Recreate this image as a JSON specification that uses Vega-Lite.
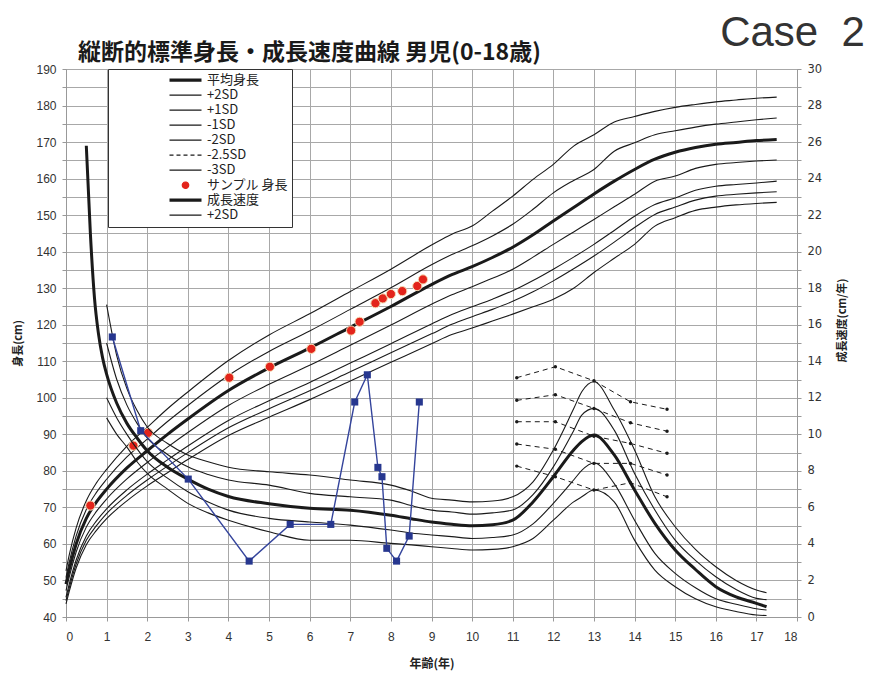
{
  "$schema": "https://vega.github.io/schema/vega-lite/v6.json",
  "width": 731,
  "height": 548,
  "autosize": {"type": "none"},
  "padding": {"left": 66, "top": 69, "right": 72, "bottom": 58},
  "background": "white",
  "config": {
    "view": {"stroke": "#999", "strokeWidth": 1},
    "font": "Noto Sans CJK JP",
    "axis": {"gridColor": "#a8a8a8", "gridWidth": 1, "domainColor": "#999", "tickColor": "#999", "tickSize": 4, "labelColor": "#333", "titleColor": "#222"}
  },
  "title": {
    "text": "縦断的標準身長・成長速度曲線 男児(0-18歳)",
    "anchor": "start", "frame": "group", "dx": 12, "dy": 54, "offset": 0,
    "font": "Noto Sans CJK JP", "fontSize": 23, "fontWeight": "bold", "color": "#1a1a1a"
  },
  "datasets": {
    "height": [
      {"age": 0, "m": 49, "p2": 52.6, "p1": 50.8, "n1": 47.2, "n2": 45.4, "n25": 44.5, "n3": 43.6},
      {"age": 0.08, "m": 53, "p2": 57, "p1": 55, "n1": 51, "n2": 49, "n25": 48, "n3": 47},
      {"age": 0.25, "m": 60, "p2": 64.4, "p1": 62.2, "n1": 57.8, "n2": 55.6, "n25": 54.5, "n3": 53.4},
      {"age": 0.5, "m": 67, "p2": 71.8, "p1": 69.4, "n1": 64.6, "n2": 62.2, "n25": 61, "n3": 59.8},
      {"age": 0.75, "m": 71.5, "p2": 76.7, "p1": 74.1, "n1": 68.9, "n2": 66.3, "n25": 65, "n3": 63.7},
      {"age": 1, "m": 75, "p2": 80.4, "p1": 77.7, "n1": 72.3, "n2": 69.6, "n25": 68.3, "n3": 66.9},
      {"age": 1.5, "m": 80.8, "p2": 86.8, "p1": 83.8, "n1": 77.8, "n2": 74.8, "n25": 73.3, "n3": 71.8},
      {"age": 2, "m": 85.5, "p2": 91.9, "p1": 88.7, "n1": 82.3, "n2": 79.1, "n25": 77.5, "n3": 75.9},
      {"age": 2.5, "m": 90, "p2": 97, "p1": 93.5, "n1": 86.5, "n2": 83, "n25": 81.3, "n3": 79.5},
      {"age": 3, "m": 94.2, "p2": 101.6, "p1": 97.9, "n1": 90.5, "n2": 86.8, "n25": 85, "n3": 83.1},
      {"age": 4, "m": 102, "p2": 110.2, "p1": 106.1, "n1": 97.9, "n2": 93.8, "n25": 91.8, "n3": 89.7},
      {"age": 5, "m": 108.2, "p2": 117.2, "p1": 112.7, "n1": 103.7, "n2": 99.2, "n25": 97, "n3": 94.7},
      {"age": 6, "m": 113.6, "p2": 123.0, "p1": 118.3, "n1": 108.9, "n2": 104.2, "n25": 101.9, "n3": 99.5},
      {"age": 7, "m": 119.3, "p2": 129.1, "p1": 124.2, "n1": 114.4, "n2": 109.5, "n25": 107.1, "n3": 104.6},
      {"age": 8, "m": 125.0, "p2": 135.2, "p1": 130.1, "n1": 119.9, "n2": 114.8, "n25": 112.3, "n3": 109.7},
      {"age": 9, "m": 131.0, "p2": 141.8, "p1": 136.4, "n1": 125.6, "n2": 120.2, "n25": 117.5, "n3": 114.8},
      {"age": 9.5, "m": 133.7, "p2": 144.8, "p1": 139.2, "n1": 128.2, "n2": 122.8, "n25": 120.1, "n3": 117.3},
      {"age": 10, "m": 135.9, "p2": 147.0, "p1": 141.6, "n1": 130.4, "n2": 124.9, "n25": 122.2, "n3": 119.1},
      {"age": 10.5, "m": 138.4, "p2": 151.1, "p1": 144.3, "n1": 132.7, "n2": 127.0, "n25": 124.2, "n3": 121.0},
      {"age": 11, "m": 141.2, "p2": 155.2, "p1": 147.5, "n1": 135.2, "n2": 129.3, "n25": 126.4, "n3": 122.9},
      {"age": 11.5, "m": 144.6, "p2": 159.8, "p1": 151.6, "n1": 138.5, "n2": 132.1, "n25": 129.0, "n3": 124.9},
      {"age": 12, "m": 148.4, "p2": 163.9, "p1": 156.1, "n1": 142.0, "n2": 135.2, "n25": 132.0, "n3": 127.0},
      {"age": 12.5, "m": 152.1, "p2": 168.9, "p1": 159.5, "n1": 145.4, "n2": 138.5, "n25": 135.3, "n3": 130.0},
      {"age": 13, "m": 155.8, "p2": 172.0, "p1": 162.5, "n1": 148.8, "n2": 142.0, "n25": 138.8, "n3": 134.3},
      {"age": 13.5, "m": 159.3, "p2": 175.5, "p1": 167.5, "n1": 152.3, "n2": 145.8, "n25": 142.6, "n3": 138.2},
      {"age": 14, "m": 162.5, "p2": 177.0, "p1": 169.8, "n1": 155.7, "n2": 149.7, "n25": 146.6, "n3": 142.0},
      {"age": 14.5, "m": 165.3, "p2": 178.4, "p1": 172.0, "n1": 159.3, "n2": 152.9, "n25": 150.2, "n3": 147.0},
      {"age": 15, "m": 167.2, "p2": 179.5, "p1": 173.1, "n1": 160.7, "n2": 154.7, "n25": 152.2, "n3": 149.3},
      {"age": 15.5, "m": 168.5, "p2": 180.3, "p1": 174.1, "n1": 162.8, "n2": 156.8, "n25": 154.1, "n3": 151.3},
      {"age": 16, "m": 169.4, "p2": 181.0, "p1": 174.9, "n1": 163.9, "n2": 157.9, "n25": 155.2, "n3": 152.2},
      {"age": 16.5, "m": 169.9, "p2": 181.5, "p1": 175.5, "n1": 164.4, "n2": 158.4, "n25": 155.7, "n3": 152.8},
      {"age": 17, "m": 170.4, "p2": 182.0, "p1": 176.1, "n1": 164.8, "n2": 158.8, "n25": 156.1, "n3": 153.2},
      {"age": 17.5, "m": 170.7, "p2": 182.3, "p1": 176.6, "n1": 165.1, "n2": 159.3, "n25": 156.4, "n3": 153.5}
    ],
    "vel": [
      {"age": 0.5, "vm": 25.8},
      {"age": 0.6, "vm": 21.0},
      {"age": 0.7, "vm": 17.5},
      {"age": 0.8, "vm": 15.5},
      {"age": 0.9, "vm": 14.2},
      {"age": 1.0, "vm": 13.3, "vp2": 17.1, "vp1": 15.0, "vn1": 12.0, "vn2": 10.9},
      {"age": 1.25, "vm": 11.7, "vp2": 14.3, "vp1": 13.0, "vn1": 10.9, "vn2": 10.0},
      {"age": 1.5, "vm": 10.6, "vp2": 12.5, "vp1": 11.6, "vn1": 10.0, "vn2": 9.3},
      {"age": 1.75, "vm": 9.8, "vp2": 11.3, "vp1": 10.6, "vn1": 9.2, "vn2": 8.5},
      {"age": 2, "vm": 9.1, "vp2": 10.4, "vp1": 9.8, "vn1": 8.5, "vn2": 7.86},
      {"age": 2.5, "vm": 8.2, "vp2": 9.5, "vp1": 8.9, "vn1": 7.6, "vn2": 7.0},
      {"age": 3, "vm": 7.55, "vp2": 8.87, "vp1": 8.22, "vn1": 6.86, "vn2": 6.22},
      {"age": 3.5, "vm": 7.0, "vp2": 8.5, "vp1": 7.8, "vn1": 6.3, "vn2": 5.7},
      {"age": 4, "vm": 6.6, "vp2": 8.2, "vp1": 7.5, "vn1": 5.85, "vn2": 5.3},
      {"age": 5, "vm": 6.2, "vp2": 7.95, "vp1": 7.22, "vn1": 5.4, "vn2": 4.67},
      {"age": 6, "vm": 5.95, "vp2": 7.77, "vp1": 6.77, "vn1": 5.2, "vn2": 4.2},
      {"age": 7, "vm": 5.85, "vp2": 7.5, "vp1": 6.58, "vn1": 5.03, "vn2": 4.2},
      {"age": 8, "vm": 5.57, "vp2": 7.22, "vp1": 6.4, "vn1": 4.76, "vn2": 4.03},
      {"age": 8.5, "vm": 5.38, "vp2": 6.9, "vp1": 6.1, "vn1": 4.6, "vn2": 3.95},
      {"age": 9, "vm": 5.2, "vp2": 6.5, "vp1": 5.85, "vn1": 4.49, "vn2": 3.85},
      {"age": 9.5, "vm": 5.08, "vp2": 6.4, "vp1": 5.75, "vn1": 4.4, "vn2": 3.75},
      {"age": 10, "vm": 5.0, "vp2": 6.3, "vp1": 5.63, "vn1": 4.3, "vn2": 3.67},
      {"age": 10.5, "vm": 5.05, "vp2": 6.35, "vp1": 5.7, "vn1": 4.35, "vn2": 3.7},
      {"age": 11, "vm": 5.3, "vp2": 6.58, "vp1": 5.86, "vn1": 4.49, "vn2": 3.85},
      {"age": 11.5, "vm": 6.3, "vp2": 7.4, "vp1": 6.7, "vn1": 5.1, "vn2": 4.3},
      {"age": 12, "vm": 7.68, "vp2": 9.14, "vp1": 8.22, "vn1": 6.22, "vn2": 5.3},
      {"age": 12.5, "vm": 9.14, "vp2": 11.4, "vp1": 10.2, "vn1": 7.5, "vn2": 6.3},
      {"age": 12.7, "vm": 9.6, "vp2": 12.33, "vp1": 11.05, "vn1": 8.03, "vn2": 6.58},
      {"age": 13, "vm": 9.96, "vp2": 12.88, "vp1": 11.42, "vn1": 8.43, "vn2": 6.95},
      {"age": 13.5, "vm": 8.87, "vp2": 11.33, "vp1": 10.23, "vn1": 7.3, "vn2": 6.3},
      {"age": 14, "vm": 6.95, "vp2": 9.14, "vp1": 7.86, "vn1": 5.3, "vn2": 4.21},
      {"age": 14.5, "vm": 5.13, "vp2": 6.58, "vp1": 5.86, "vn1": 3.48, "vn2": 2.57},
      {"age": 15, "vm": 3.67, "vp2": 4.94, "vp1": 4.21, "vn1": 2.39, "vn2": 1.66},
      {"age": 15.5, "vm": 2.6, "vp2": 3.7, "vp1": 3.1, "vn1": 1.6, "vn2": 1.0},
      {"age": 16, "vm": 1.66, "vp2": 2.75, "vp1": 2.2, "vn1": 1.0, "vn2": 0.56},
      {"age": 16.5, "vm": 1.1, "vp2": 2.0, "vp1": 1.5, "vn1": 0.7, "vn2": 0.3},
      {"age": 17, "vm": 0.75, "vp2": 1.48, "vp1": 1.02, "vn1": 0.45, "vn2": 0.11},
      {"age": 17.25, "vm": 0.56, "vp2": 1.33, "vp1": 0.95, "vn1": 0.38, "vn2": 0.08}
    ],
    "dashed": [
      {"age": 11.1, "d1": 13.1, "d2": 11.86, "d3": 10.69, "d4": 9.47, "d5": 8.26},
      {"age": 12.05, "d1": 13.7, "d2": 12.17, "d3": 10.69, "d4": 9.18, "d5": 7.68},
      {"age": 13.0, "d1": 12.93, "d2": 11.42, "d3": 9.9, "d4": 8.41, "d5": 6.95},
      {"age": 13.9, "d1": 11.78, "d2": 10.63, "d3": 9.5, "d4": 8.41, "d5": 7.35},
      {"age": 14.8, "d1": 11.37, "d2": 10.17, "d3": 8.96, "d4": 7.77, "d5": 6.58}
    ],
    "sampleH": [
      {"age": 0.6, "cm": 70.5},
      {"age": 1.66, "cm": 86.9},
      {"age": 2.02, "cm": 90.4},
      {"age": 4.02, "cm": 105.5},
      {"age": 5.02, "cm": 108.5},
      {"age": 6.04, "cm": 113.4},
      {"age": 7.02, "cm": 118.4},
      {"age": 7.23, "cm": 120.8},
      {"age": 7.62, "cm": 125.9},
      {"age": 7.8, "cm": 127.2},
      {"age": 8.0, "cm": 128.4},
      {"age": 8.28, "cm": 129.2},
      {"age": 8.65, "cm": 130.6},
      {"age": 8.79, "cm": 132.4}
    ],
    "sampleV": [
      {"age": 1.14, "v": 15.33},
      {"age": 1.84, "v": 10.2},
      {"age": 3.01, "v": 7.55},
      {"age": 4.51, "v": 3.06},
      {"age": 5.52, "v": 5.07},
      {"age": 6.52, "v": 5.07},
      {"age": 7.11, "v": 11.77},
      {"age": 7.42, "v": 13.26},
      {"age": 7.68, "v": 8.19},
      {"age": 7.78, "v": 7.68},
      {"age": 7.9, "v": 3.76},
      {"age": 8.14, "v": 3.06},
      {"age": 8.45, "v": 4.43},
      {"age": 8.7, "v": 11.77}
    ]
  },
  "encoding": {
    "x": {
      "field": "age", "type": "quantitative",
      "scale": {"domain": [0, 18], "nice": false, "zero": false},
      "axis": {
        "values": [0,1,2,3,4,5,6,7,8,9,10,11,12,13,14,15,16,17,18],
        "title": "年齢(年)", "grid": true,
        "labelFont": "Liberation Sans", "labelFontSize": 12, "labelPadding": 10,
        "titleFont": "Noto Sans CJK JP", "titleFontSize": 12, "titleFontWeight": "bold",
        "titleY": 46, "titleBaseline": "middle"
      }
    }
  },
  "layer": [
    {
      "encoding": {
        "y": {
          "field": "cm", "type": "quantitative",
          "scale": {"domain": [40, 190], "nice": false, "zero": false},
          "axis": {
            "orient": "left", "title": "身長(cm)",
            "values": [40,45,50,55,60,65,70,75,80,85,90,95,100,105,110,115,120,125,130,135,140,145,150,155,160,165,170,175,180,185,190],
            "labelExpr": "datum.value % 10 === 0 ? datum.label : ''",
            "grid": true, "labelFont": "Liberation Sans", "labelFontSize": 12, "labelPadding": 6,
            "titleFont": "Noto Sans CJK JP", "titleFontSize": 11, "titleFontWeight": "bold",
            "titleAngle": 270, "titleX": -48, "titleY": 274, "titleAlign": "center", "titleBaseline": "middle"
          }
        }
      },
      "layer": [
        {
          "data": {"name": "height"},
          "transform": [{"fold": ["m", "p2", "p1", "n1", "n2", "n25", "n3"], "as": ["s", "cm"]}],
          "mark": {"type": "line", "interpolate": "monotone"},
          "encoding": {
            "detail": {"field": "s"},
            "color": {
              "field": "s", "type": "nominal",
              "scale": {
                "domain": ["m", "p2", "p1", "n1", "n2", "n25", "n3", "smp", "vm", "vp2"],
                "range": ["#1a1a1a", "#1a1a1a", "#1a1a1a", "#1a1a1a", "#1a1a1a", "#1a1a1a", "#1a1a1a", "#e3241b", "#1a1a1a", "#1a1a1a"]
              },
              "legend": {
                "orient": "none", "legendX": 42, "legendY": 0, "title": null,
                "padding": 4, "fillColor": "white", "strokeColor": "#333",
                "symbolSize": 1024, "symbolType": "stroke", "symbolStrokeWidth": 1.2,
                "symbolOffset": 67, "labelOffset": 15, "clipHeight": 14.4, "rowPadding": 0,
                "labelFont": "Noto Sans CJK JP", "labelFontSize": 13, "labelColor": "#222", "labelLimit": 300,
                "labelExpr": "datum.value === 'm' ? '平均身長' : datum.value === 'p2' ? '+2SD' : datum.value === 'p1' ? '+1SD' : datum.value === 'n1' ? '-1SD' : datum.value === 'n2' ? '-2SD' : datum.value === 'n25' ? '-2.5SD' : datum.value === 'n3' ? '-3SD' : datum.value === 'smp' ? 'サンプル 身長\u00a0\u00a0\u00a0\u00a0\u00a0\u00a0' : datum.value === 'vm' ? '成長速度' : '+2SD'",
                "encode": {
                  "symbols": {
                    "update": {
                      "shape": {"signal": "datum.value === 'smp' ? 'M-0.2,0A0.2,0.2 0 1,0 0.2,0A0.2,0.2 0 1,0 -0.2,0Z' : 'stroke'"},
                      "fill": {"signal": "datum.value === 'smp' ? '#e3241b' : 'transparent'"},
                      "stroke": {"signal": "datum.value === 'smp' ? '#e3241b' : '#1a1a1a'"},
                      "strokeWidth": {"signal": "(datum.value === 'm' || datum.value === 'vm') ? 3.2 : 1.2"},
                      "strokeDash": {"signal": "datum.value === 'n25' ? [4, 3] : [1, 0]"}
                    }
                  }
                }
              }
            },
            "strokeWidth": {"condition": {"test": "datum.s === 'm'", "value": 3}, "value": 1.1}
          }
        },
        {
          "data": {"name": "sampleH"},
          "mark": {"type": "point", "filled": true, "shape": "circle", "size": 85, "color": "#e3241b", "stroke": "#f6dcb4", "strokeWidth": 1, "opacity": 1}
        }
      ]
    },
    {
      "encoding": {
        "x": {
          "field": "age", "type": "quantitative",
          "scale": {"domain": [0, 18], "nice": false, "zero": false},
          "axis": {
            "orient": "top", "labels": false, "ticks": false, "domain": false, "grid": false,
            "title": "Case\u00a0\u00a02", "titleFont": "Liberation Sans", "titleFontSize": 42, "titleFontWeight": "normal",
            "titleColor": "#333", "titleX": 726, "titleY": -24, "titleAlign": "center", "titleBaseline": "alphabetic"
          }
        },
        "y": {
          "field": "v", "type": "quantitative",
          "scale": {"domain": [0, 30], "nice": false, "zero": false},
          "axis": {
            "orient": "right", "title": "成長速度(cm/年)",
            "values": [0,1,2,3,4,5,6,7,8,9,10,11,12,13,14,15,16,17,18,19,20,21,22,23,24,25,26,27,28,29,30],
            "labelExpr": "datum.value % 2 === 0 ? datum.label : ''",
            "grid": false, "labelFont": "DejaVu Sans", "labelFontSize": 11.5, "labelPadding": 6,
            "titleFont": "Noto Sans CJK JP", "titleFontSize": 11, "titleFontWeight": "bold",
            "titleAngle": 270, "titleX": 45, "titleY": 251, "titleAlign": "center", "titleBaseline": "middle"
          }
        }
      },
      "layer": [
        {
          "data": {"name": "vel"},
          "transform": [{"fold": ["vm", "vp2", "vp1", "vn1", "vn2"], "as": ["s", "v"]}],
          "mark": {"type": "line", "interpolate": "monotone", "color": "#1a1a1a"},
          "encoding": {
            "detail": {"field": "s"},
            "strokeWidth": {"condition": {"test": "datum.s === 'vm'", "value": 3}, "value": 1.1}
          }
        },
        {
          "data": {"name": "dashed"},
          "transform": [{"fold": ["d1", "d2", "d3", "d4", "d5"], "as": ["g", "v"]}],
          "mark": {"type": "line", "color": "#1a1a1a", "strokeWidth": 1, "strokeDash": [5, 4]},
          "encoding": {"detail": {"field": "g"}}
        },
        {
          "data": {"name": "dashed"},
          "transform": [{"fold": ["d1", "d2", "d3", "d4", "d5"], "as": ["g", "v"]}],
          "mark": {"type": "point", "filled": true, "shape": "circle", "size": 12, "color": "#1a1a1a", "opacity": 1}
        },
        {
          "data": {"name": "sampleV"},
          "mark": {"type": "line", "color": "#34449c", "strokeWidth": 1.4}
        },
        {
          "data": {"name": "sampleV"},
          "mark": {"type": "square", "size": 50, "color": "#27378f", "filled": true, "opacity": 1}
        }
      ]
    }
  ],
  "resolve": {"scale": {"y": "independent", "x": "independent"}}
}
